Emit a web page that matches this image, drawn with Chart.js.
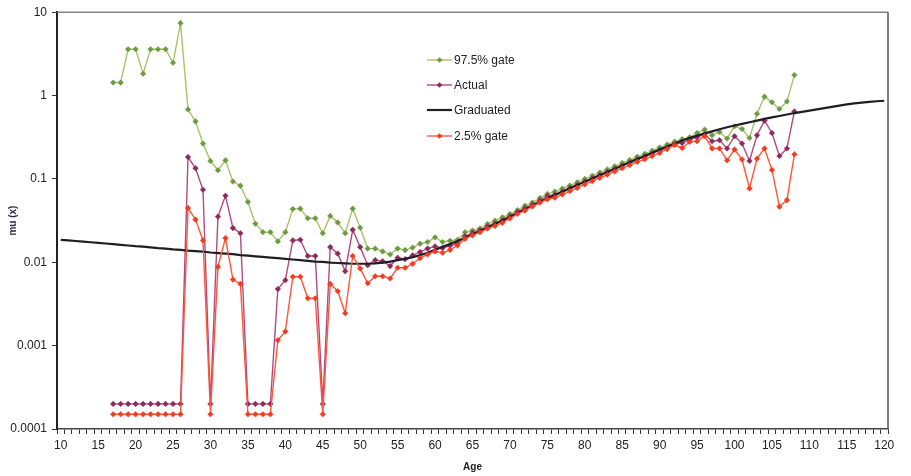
<!DOCTYPE html>
<html><head><meta charset="utf-8">
<script src="https://cdn.jsdelivr.net/npm/chart.js@4/dist/chart.umd.min.js"></script>
<style>html,body{margin:0;padding:0;background:#fff;}#wrap{width:911px;height:476px;position:relative;}</style>
</head><body><div id="wrap"><canvas id="c" width="911" height="476"></canvas></div>
<script>
// Category axis: ages 10..120
const ages = [10,11,12,13,14,15,16,17,18,19,20,21,22,23,24,25,26,27,28,29,30,31,32,33,34,35,36,37,38,39,40,41,42,43,44,45,46,47,48,49,50,51,52,53,54,55,56,57,58,59,60,61,62,63,64,65,66,67,68,69,70,71,72,73,74,75,76,77,78,79,80,81,82,83,84,85,86,87,88,89,90,91,92,93,94,95,96,97,98,99,100,101,102,103,104,105,106,107,108,109,110,111,112,113,114,115,116,117,118,119,120];
// Ages with observed data
const obsAges = [17,18,19,20,21,22,23,24,25,26,27,28,29,30,31,32,33,34,35,36,37,38,39,40,41,42,43,44,45,46,47,48,49,50,51,52,53,54,55,56,57,58,59,60,61,62,63,64,65,66,67,68,69,70,71,72,73,74,75,76,77,78,79,80,81,82,83,84,85,86,87,88,89,90,91,92,93,94,95,96,97,98,99,100,101,102,103,104,105,106,107,108];
const upperGate = [1.43,1.43,3.6,3.6,1.83,3.6,3.6,3.6,2.47,7.4,0.68,0.49,0.266,0.164,0.127,0.167,0.093,0.083,0.053,0.029,0.023,0.023,0.0178,0.023,0.0435,0.044,0.0337,0.0337,0.0223,0.036,0.030,0.0223,0.044,0.026,0.0146,0.0146,0.0135,0.0124,0.0146,0.014,0.015,0.0167,0.0175,0.0199,0.0175,0.0181,0.0186,0.0229,0.024,0.0254,0.0288,0.0316,0.0346,0.0379,0.0423,0.0475,0.052,0.0589,0.066,0.0705,0.0765,0.0835,0.091,0.1,0.109,0.119,0.13,0.142,0.155,0.169,0.184,0.2,0.218,0.238,0.258,0.28,0.3,0.316,0.356,0.39,0.334,0.366,0.305,0.428,0.397,0.31,0.605,0.97,0.83,0.69,0.85,1.76];
const actual = [0.0002,0.0002,0.0002,0.0002,0.0002,0.0002,0.0002,0.0002,0.0002,0.0002,0.183,0.134,0.074,0.0002,0.0353,0.0628,0.0257,0.0223,0.0002,0.0002,0.0002,0.0002,0.00477,0.0061,0.0183,0.0186,0.0119,0.0119,0.0002,0.0152,0.0127,0.0078,0.0245,0.0152,0.0092,0.0106,0.0103,0.009,0.0113,0.0109,0.0121,0.0133,0.0146,0.0155,0.0148,0.0158,0.0168,0.0205,0.0225,0.0242,0.0268,0.0292,0.032,0.0355,0.04,0.0445,0.049,0.055,0.0622,0.065,0.0705,0.0775,0.0848,0.093,0.1015,0.111,0.121,0.132,0.144,0.157,0.171,0.185,0.202,0.22,0.238,0.262,0.27,0.296,0.316,0.347,0.283,0.291,0.232,0.325,0.266,0.164,0.334,0.5,0.356,0.188,0.232,0.645];
const lowerGate = [0.00015,0.00015,0.00015,0.00015,0.00015,0.00015,0.00015,0.00015,0.00015,0.00015,0.0448,0.0325,0.0183,0.00015,0.0088,0.0195,0.0062,0.0055,0.00015,0.00015,0.00015,0.00015,0.00116,0.00148,0.0067,0.0067,0.0037,0.0037,0.00015,0.0055,0.0045,0.00245,0.0119,0.0084,0.0056,0.0068,0.0068,0.0064,0.0086,0.0086,0.0096,0.0112,0.0124,0.0135,0.013,0.0141,0.0159,0.0191,0.021,0.0229,0.0254,0.0273,0.0297,0.0335,0.0379,0.0417,0.0466,0.052,0.057,0.0596,0.065,0.0715,0.078,0.086,0.094,0.103,0.112,0.123,0.134,0.146,0.16,0.172,0.188,0.205,0.228,0.255,0.235,0.278,0.283,0.325,0.232,0.232,0.167,0.225,0.171,0.0767,0.175,0.232,0.128,0.0464,0.0557,0.197];
const graduated = [0.0186,0.0183,0.018,0.0177,0.0174,0.0171,0.0168,0.0165,0.0162,0.0159,0.0156,0.0154,0.0151,0.0148,0.0146,0.0143,0.0141,0.0138,0.0136,0.0134,0.0131,0.0129,0.0127,0.0125,0.0122,0.012,0.0118,0.0116,0.0114,0.0112,0.011,0.0108,0.0106,0.0104,0.0102,0.0101,0.0099,0.0098,0.0097,0.0096,0.0096,0.0096,0.0097,0.0099,0.0102,0.0106,0.011,0.0115,0.0122,0.013,0.0141,0.0153,0.0166,0.018,0.0197,0.0216,0.0237,0.0261,0.0288,0.0318,0.0352,0.0389,0.0431,0.0476,0.0527,0.0583,0.0641,0.0703,0.0771,0.0845,0.0927,0.1014,0.111,0.1213,0.1327,0.1452,0.1585,0.173,0.1888,0.2061,0.2249,0.2449,0.266,0.2884,0.309,0.331,0.351,0.372,0.394,0.417,0.437,0.457,0.479,0.501,0.525,0.547,0.569,0.592,0.617,0.638,0.661,0.684,0.708,0.733,0.759,0.782,0.804,0.822,0.839,0.855,0.867];
const yTickValues = [0.0001,0.001,0.01,0.1,1,10];
const yTickLabels = ['0.0001','0.001','0.01','0.1','1','10'];
const seriesNames = ['97.5% gate','Actual','Graduated','2.5% gate'];

const labels = ages.map(String);
const toPts = arr => obsAges.map((a,i)=>({x:String(a), y:arr[i]}));

const C = {
  green:{line:'#a9c263', pt:'#6c9a43'},
  purple:{line:'#b04a80', pt:'#8c2a5a'},
  grad:{line:'#1e1e24'},
  orange:{line:'#ff5637', pt:'#f43a20'}
};

const datasets = [
  {label:seriesNames[3], data:toPts(lowerGate), borderColor:C.orange.line, backgroundColor:C.orange.pt, pointBackgroundColor:C.orange.pt, pointBorderColor:C.orange.pt, borderWidth:1.4, pointStyle:'rectRot', pointRadius:2.8, pointBorderWidth:0.5},
  {label:seriesNames[2], data:graduated, borderColor:C.grad.line, borderWidth:2.2, pointRadius:0},
  {label:seriesNames[1], data:toPts(actual), borderColor:C.purple.line, backgroundColor:C.purple.pt, pointBackgroundColor:C.purple.pt, pointBorderColor:C.purple.pt, borderWidth:1.4, pointStyle:'rectRot', pointRadius:2.8, pointBorderWidth:0.5},
  {label:seriesNames[0], data:toPts(upperGate), borderColor:C.green.line, backgroundColor:C.green.pt, pointBackgroundColor:C.green.pt, pointBorderColor:C.green.pt, borderWidth:1.4, pointStyle:'rectRot', pointRadius:2.8, pointBorderWidth:0.5}
];

const frame = {
  id:'frame',
  afterDatasetsDraw(chart){
    const {ctx, chartArea:a} = chart;
    ctx.save();
    ctx.strokeStyle = '#8a7f88'; ctx.lineWidth = 1.5;
    ctx.beginPath(); ctx.moveTo(a.left, a.top); ctx.lineTo(a.right, a.top); ctx.stroke();
    ctx.strokeStyle = '#555'; ctx.lineWidth = 1.5;
    ctx.beginPath(); ctx.moveTo(a.right, a.top); ctx.lineTo(a.right, a.bottom); ctx.stroke();
    ctx.restore();
  }
};

const legendItems = [
  {name:seriesNames[0], line:C.green.line, pt:C.green.pt, w:1.4},
  {name:seriesNames[1], line:C.purple.line, pt:C.purple.pt, w:1.4},
  {name:seriesNames[2], line:C.grad.line, pt:null, w:2.2},
  {name:seriesNames[3], line:C.orange.line, pt:C.orange.pt, w:1.4}
];
const innerLegend = {
  id:'innerLegend',
  afterDraw(chart){
    const ctx = chart.ctx;
    const x0 = 427, x1 = 452, rows = [60, 85, 110, 136];
    ctx.save();
    ctx.font = '12px "Liberation Sans", Arial, sans-serif';
    ctx.textBaseline = 'middle';
    legendItems.forEach((it,i)=>{
      const y = rows[i];
      ctx.strokeStyle = it.line; ctx.lineWidth = it.w;
      ctx.beginPath(); ctx.moveTo(x0,y); ctx.lineTo(x1,y); ctx.stroke();
      if (it.pt){
        ctx.fillStyle = it.pt;
        ctx.beginPath(); const m=(x0+x1)/2, r=2.8;
        ctx.moveTo(m,y-r); ctx.lineTo(m+r,y); ctx.lineTo(m,y+r); ctx.lineTo(m-r,y); ctx.closePath(); ctx.fill();
      }
      ctx.fillStyle = '#222';
      ctx.fillText(it.name, x1+2, y+0.5);
    });
    ctx.restore();
  }
};

new Chart(document.getElementById('c'), {
  type:'line',
  data:{labels, datasets},
  options:{
    responsive:false, animation:false, devicePixelRatio:1,
    layout:{padding:{top:10,right:23,bottom:0,left:0}},
    plugins:{legend:{display:false}, tooltip:{enabled:false}},
    elements:{line:{tension:0}},
    scales:{
      x:{
        type:'category', offset:true,
        grid:{display:true, drawOnChartArea:false, drawTicks:true, tickLength:5, offset:true, color:'#333', lineWidth:1},
        border:{display:true, color:'#444', width:1.5},
        ticks:{autoSkip:false, maxRotation:0, minRotation:0, padding:4, color:'#222',
          font:{family:'"Liberation Sans", Arial, sans-serif', size:12},
          callback:(v,i)=> (ages[i] % 5 === 0 ? String(ages[i]) : '')},
        title:{display:true, text:'Age', color:'#222', font:{family:'"Liberation Sans", Arial, sans-serif', size:10, weight:'bold'}, padding:{top:0,bottom:3}},
        afterFit(s){ s.height = 47; }
      },
      y:{
        type:'logarithmic', min:0.0001, max:10,
        afterBuildTicks(s){ s.ticks = yTickValues.map(v=>({value:v})); },
        grid:{display:true, drawOnChartArea:false, drawTicks:true, tickLength:5, color:'#333'},
        border:{display:true, color:'#222', width:2},
        ticks:{padding:5, color:'#222', font:{family:'"Liberation Sans", Arial, sans-serif', size:12},
          callback:(v)=>{ const k = yTickValues.findIndex(t=>Math.abs(t-v)/t<1e-6); return k>=0 ? yTickLabels[k] : ''; }},
        title:{display:true, text:'mu (x)', color:'#2a2a48', font:{family:'"Liberation Sans", Arial, sans-serif', size:10, weight:'bold'}, padding:{top:7,bottom:0}},
        afterFit(s){ s.width = 57; }
      }
    }
  },
  plugins:[frame, innerLegend]
});
</script></body></html>
